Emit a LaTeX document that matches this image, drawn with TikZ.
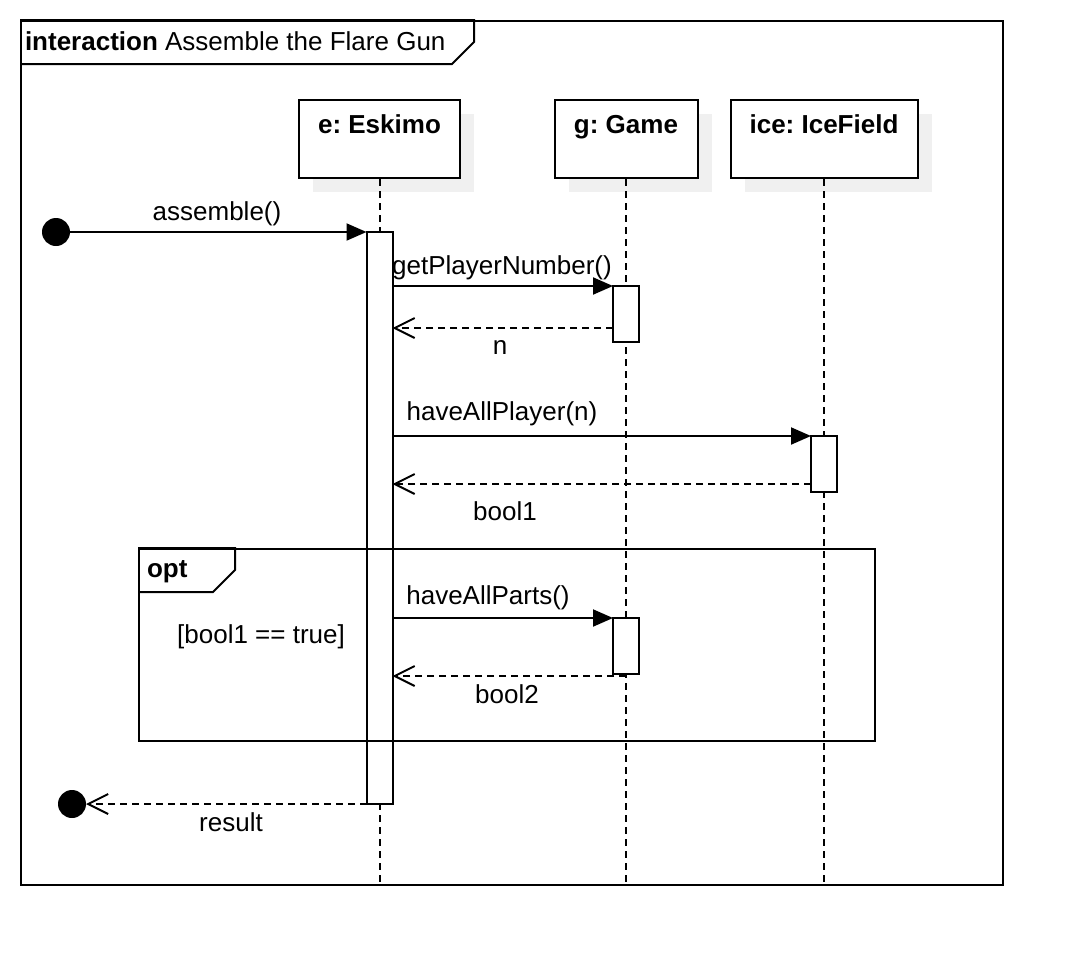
\documentclass[tikz,border=0pt]{standalone}
\usepackage{fontspec}
\setmainfont{Liberation Sans}
\usetikzlibrary{arrows.meta,calc,shadows}
\frenchspacing
\begin{document}
\begin{tikzpicture}[x=1pt,y=-1pt,
  line width=2pt,
  txt/.style={inner sep=0pt, anchor=base, font=\fontsize{26}{31}\selectfont},
  headbox/.style={draw, fill=white, minimum width=#1, minimum height=78pt, inner sep=0pt,
    drop shadow={shadow xshift=14pt, shadow yshift=-14pt, fill=black!6, opacity=1}},
  act/.style={draw, fill=white, minimum width=26pt, inner sep=0pt, outer sep=0pt,
    minimum height=#1, anchor=north},
  lifeline/.style={dash pattern=on 7pt off 5pt},
  call/.style={-{Triangle[length=20pt,width=17pt]}},
  reply/.style={dash pattern=on 7pt off 5pt, -{Straight Barb[length=20pt,width=20pt]}},
  dot/.style={circle, fill=black, inner sep=0pt, outer sep=0pt, minimum size=28pt},
  fragment/.style={draw, inner sep=0pt, anchor=north west},
]
% canvas
\fill[white] (0,0) rectangle (1082,964);
\useasboundingbox (0,0) rectangle (1082,964);

% interaction frame
\node[fragment, minimum width=982pt, minimum height=864pt] (frame) at (20,20) {};
\draw (frame.north west) -- ++(454,0) -- ++(0,22) -- ++(-22,22) -- ++(-432,0);
\node[txt, anchor=base west] (title) at (24,50) {\textbf{interaction} Assemble the Flare Gun};

% lifeline heads
\node[headbox=161pt] (e) at (379.5,139) {};
\node[headbox=143pt] (g) at (626,139) {};
\node[headbox=187pt] (ice) at (824,139) {};
\node[txt] (eName) at (379.5,133) {\textbf{e: Eskimo}};
\node[txt] (gName) at (626,133) {\textbf{g: Game}};
\node[txt] (iceName) at (824,133) {\textbf{ice: IceField}};

% lifelines
\draw[lifeline] (e.south) -- (e.south |- frame.south);
\draw[lifeline] (g.south) -- (g.south |- frame.south);
\draw[lifeline] (ice.south) -- (ice.south |- frame.south);

% activations
\node[act=572pt] (ea) at (379.5,232) {};
\node[act=56pt] (ga1) at (626,286) {};
\node[act=56pt] (ia) at (824,436) {};
\node[act=56pt] (ga2) at (626,618) {};

% found / lost message ends
\node[dot] (start) at (56,232) {};
\node[dot] (stop) at (72,804) {};

% messages
\draw[call] (start) -- (ea.north west);
\node[txt] (m1) at (217,220) {assemble()};

\draw[call] (ea.east |- ga1.north) -- (ga1.north west);
\node[txt] (m2) at (502,274) {getPlayerNumber()};
\coordinate (r1) at ([yshift=14pt]ga1.south west);
\draw[reply] (r1) -- (r1 -| ea.east);
\node[txt] (m3) at (500,354) {n};

\draw[call] (ea.east |- ia.north) -- (ia.north west);
\node[txt] (m4) at (502,420) {haveAllPlayer(n)};
\coordinate (r2) at ([yshift=8pt]ia.south west);
\draw[reply] (r2) -- (r2 -| ea.east);
\node[txt] (m5) at (505,520) {bool1};

% optional fragment
\node[fragment, minimum width=736pt, minimum height=192pt] (opt) at (138,548) {};
\draw (opt.north west) -- ++(97,0) -- ++(0,22) -- ++(-22,22) -- ++(-75,0);
\node[txt, anchor=base west] (optName) at (146,577) {\textbf{opt}};
\node[txt] (guard) at (261,643) {[bool1 == true]};

\draw[call] (ea.east |- ga2.north) -- (ga2.north west);
\node[txt] (m6) at (488,604) {haveAllParts()};
\coordinate (r3) at ([yshift=-2pt]ga2.south);
\draw[reply] (r3) -- (r3 -| ea.east);
\node[txt] (m7) at (507,703) {bool2};

\draw[reply] (ea.south west) -- (stop);
\node[txt] (m8) at (231,831) {result};
\end{tikzpicture}
\end{document}
